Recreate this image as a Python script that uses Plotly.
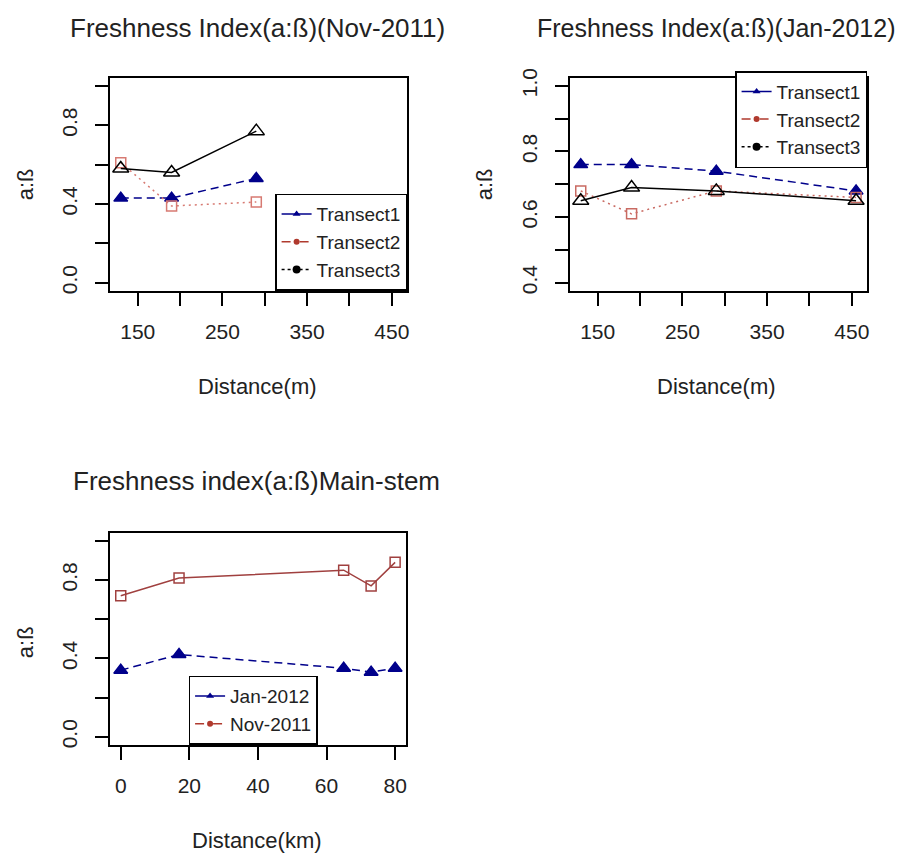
import plotly.graph_objects as go

# ---------------- data ----------------
dist_m_nov = [130, 190, 290]
nov_t1 = [0.43, 0.43, 0.53]
nov_t2 = [0.61, 0.39, 0.41]
nov_t3 = [0.58, 0.56, 0.77]

dist_m_jan = [130, 190, 290, 455]
jan_t1 = [0.76, 0.76, 0.74, 0.68]
jan_t2 = [0.68, 0.61, 0.68, 0.66]
jan_t3 = [0.65, 0.69, 0.68, 0.65]

dist_km = [0, 17, 65, 73, 80]
main_jan = [0.34, 0.42, 0.35, 0.33, 0.35]
main_nov = [0.72, 0.81, 0.85, 0.77, 0.89]

x_m_ticks = [150, 200, 250, 300, 350, 400, 450]
x_m_labels = ["150", "", "250", "", "350", "", "450"]
y1_ticks = [0, 0.2, 0.4, 0.6, 0.8, 1.0]
y1_labels = ["0.0", "", "0.4", "", "0.8", ""]
y2_ticks = [0.4, 0.5, 0.6, 0.7, 0.8, 0.9, 1.0]
y2_labels = ["0.4", "", "0.6", "", "0.8", "", "1.0"]
x_km_ticks = [0, 20, 40, 60, 80]
x_km_labels = ["0", "20", "40", "60", "80"]

# ---------------- styles ----------------
BLUE = "#00008B"
REDLINE = "#A0403F"
BLACK = "#000000"
FONT = "Liberation Sans, Arial, sans-serif"
TXT = "#222222"
W, H = 906, 858
DASH = "8px,5px"
DOT = "2px,4px"


def px(x):
    return x / W


def py(y):
    return 1 - y / H


fig = go.Figure()


def add(x, y, color, dash, symbol, size, xa, ya, lw=1.5, mlw=1.5):
    fig.add_trace(go.Scatter(
        x=x, y=y, mode="lines+markers", xaxis=xa, yaxis=ya, showlegend=False,
        line=dict(color=color, dash=dash, width=lw),
        marker=dict(symbol=symbol, size=size, color=color, line=dict(color=color, width=mlw)),
    ))


def leg(name, color, dash, symbol, size, legend):
    fig.add_trace(go.Scatter(
        x=[None], y=[None], mode="lines+markers", name=name, legend=legend,
        line=dict(color=color, dash=dash, width=1.5),
        marker=dict(symbol=symbol, size=size, color=color),
    ))


# panel 1
add(dist_m_nov, nov_t1, BLUE, DASH, "triangle-up", 12, "x", "y")
add(dist_m_nov, nov_t2, "#D77A72", DOT, "square-open", 10, "x", "y")
add(dist_m_nov, nov_t3, BLACK, "solid", "triangle-up-open", 14, "x", "y")
# panel 2
add(dist_m_jan, jan_t1, BLUE, DASH, "triangle-up", 12, "x2", "y2")
add(dist_m_jan, jan_t2, "#C96A62", DOT, "square-open", 10, "x2", "y2")
add(dist_m_jan, jan_t3, BLACK, "solid", "triangle-up-open", 14, "x2", "y2")
# panel 3
add(dist_km, main_jan, BLUE, DASH, "triangle-up", 12, "x3", "y3")
add(dist_km, main_nov, REDLINE, "solid", "square-open", 10, "x3", "y3")

# legend items (as drawn in the original)
for lg in ["legend", "legend2"]:
    leg("Transect1", BLUE, "solid", "triangle-up", 7, lg)
    leg("Transect2", "#B03A2E", "dash", "circle", 6, lg)
    leg("Transect3", BLACK, "dot", "circle", 8, lg)
leg("Jan-2012", BLUE, "solid", "triangle-up", 7, "legend3")
leg("Nov-2011", "#B03A2E", "dash", "circle", 6, "legend3")


def axis(domain, rng, tv, tt, anchor, angle=0, standoff=8):
    return dict(
        domain=domain, range=rng, tickvals=tv, ticktext=tt, anchor=anchor,
        showgrid=False, zeroline=False, showline=True, mirror=True,
        linecolor="black", linewidth=2, ticks="outside", ticklen=13,
        tickwidth=2, tickcolor="black", tickangle=angle,
        tickfont=dict(family=FONT, size=21, color=TXT),
        ticklabelstandoff=standoff,
    )


p1x = [px(110), px(408)]
p1y = [py(285), py(69)]
p2x = [px(571), px(869)]
p3x = [px(110), px(407)]
p3y = [py(746), py(531)]

legbox = dict(bordercolor="black", borderwidth=1.5, bgcolor="white",
              font=dict(family=FONT, size=19, color=TXT), tracegroupgap=0)

fig.update_layout(
    width=W, height=H, margin=dict(l=0, r=0, t=0, b=0),
    plot_bgcolor="white", paper_bgcolor="white",
    xaxis=axis(p1x, [117, 468], x_m_ticks, x_m_labels, "y"),
    yaxis=axis(p1y, [-0.04, 1.04], y1_ticks, y1_labels, "x", -90, 9),
    xaxis2=axis(p2x, [117, 468], x_m_ticks, x_m_labels, "y2"),
    yaxis2=axis(p1y, [0.376, 1.024], y2_ticks, y2_labels, "x2", -90, 9),
    xaxis3=axis(p3x, [-3.2, 83.2], x_km_ticks, x_km_labels, "y3"),
    yaxis3=axis(p3y, [-0.04, 1.04], y1_ticks, y1_labels, "x3", -90, 9),
    legend=dict(x=px(408), y=py(285), xanchor="right", yanchor="bottom", **legbox),
    legend2=dict(x=px(869), y=py(62), xanchor="right", yanchor="top", **legbox),
    legend3=dict(x=px(189), y=py(746), xanchor="left", yanchor="bottom", **legbox),
)

anns = [
    ("Freshness Index(a:ß)(Nov-2011)", 258, 18, 26, 0),
    ("Freshness Index(a:ß)(Jan-2012)", 718, 18, 25, 0),
    ("Freshness index(a:ß)Main-stem", 257, 478, 26, 0),
    ("Distance(m)", 258, 382, 22, 0),
    ("Distance(m)", 718, 382, 22, 0),
    ("Distance(km)", 258, 843, 22, 0),
    ("a:ß", 25, 177, 22, -90),
    ("a:ß", 485, 177, 22, -90),
    ("a:ß", 25, 642, 22, -90),
]
for text, x, y, size, ang in anns:
    fig.add_annotation(text=text, x=px(x), y=py(y), xref="paper", yref="paper",
                       xanchor="center", yanchor="middle", showarrow=False,
                       textangle=ang, font=dict(family=FONT, size=size, color=TXT))

fig.write_html("out.html")
